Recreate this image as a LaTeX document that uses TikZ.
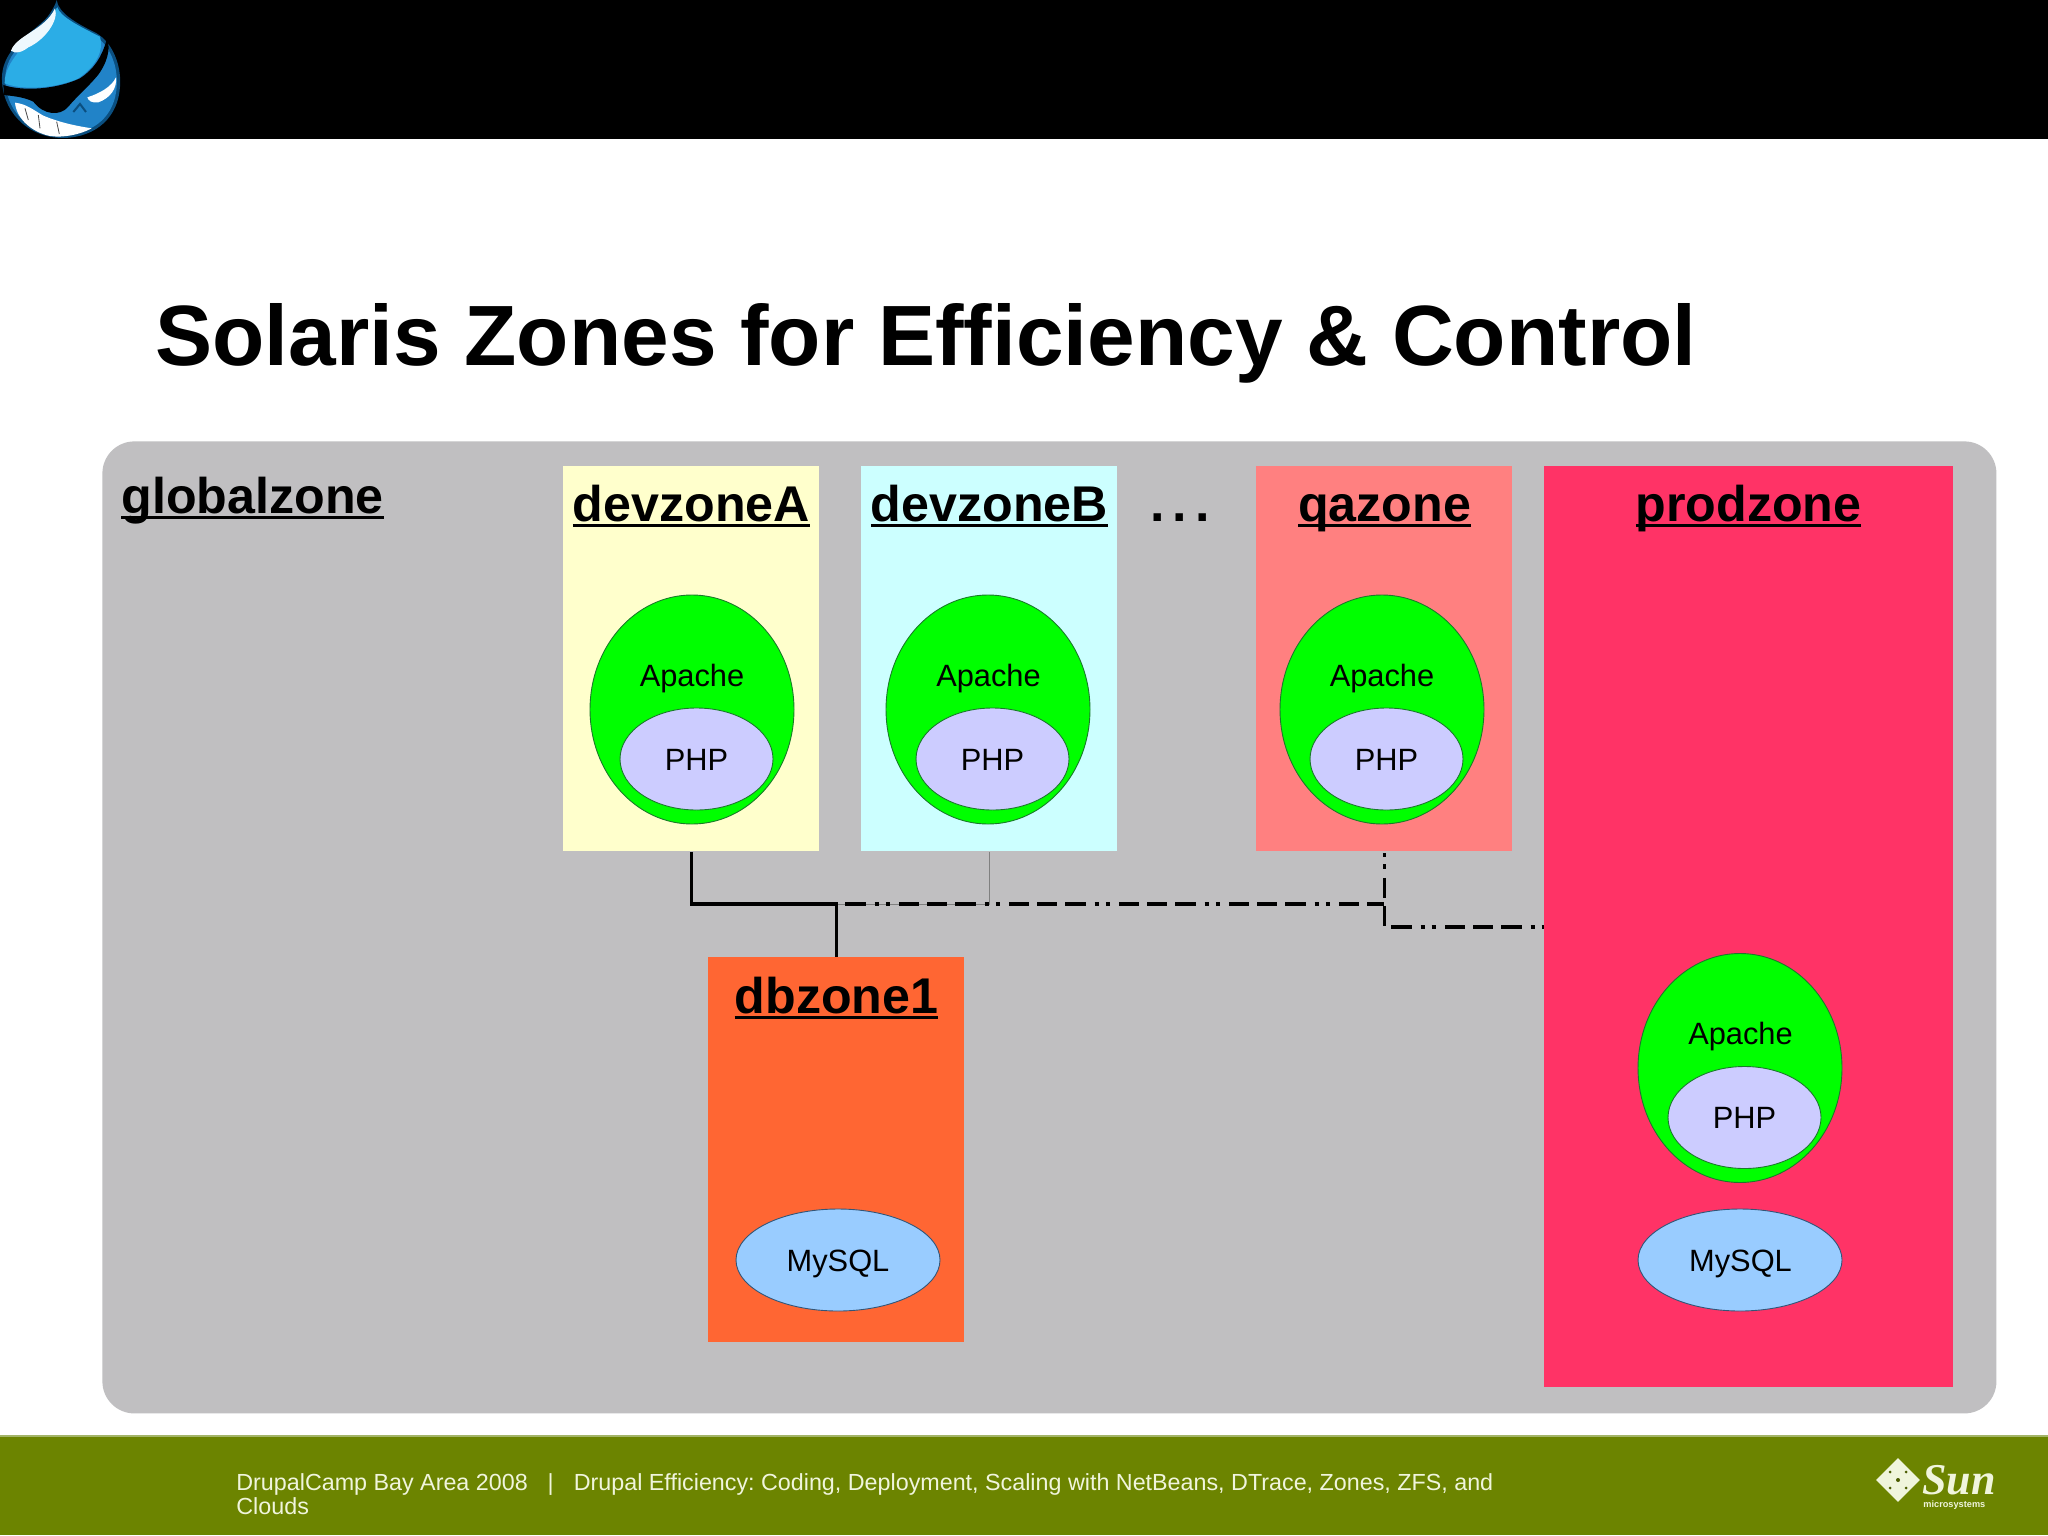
\documentclass[tikz,border=0pt]{standalone}
\usepackage{fontspec}
\setmainfont{Liberation Sans}
\newfontfamily\sunfont{Liberation Serif}
\usetikzlibrary{shapes.geometric,calc}
\frenchspacing
\definecolor{panelgrey}{HTML}{C0BFC1}
\definecolor{footgreen}{HTML}{6C8400}
\definecolor{footedge}{HTML}{A3B468}
\definecolor{apachegreen}{HTML}{00FF00}
\definecolor{edgegreen}{HTML}{1A7A2A}
\definecolor{phpblue}{HTML}{CCCCFF}
\definecolor{mysqlblue}{HTML}{99CCFF}
\definecolor{edgeblue}{HTML}{335577}
\definecolor{zoneA}{HTML}{FFFFCC}
\definecolor{zoneB}{HTML}{CCFFFF}
\definecolor{zoneQ}{HTML}{FF8080}
\definecolor{zoneP}{HTML}{FF3366}
\definecolor{zoneD}{HTML}{FF6633}
\definecolor{dropdark}{HTML}{0B4F80}
\definecolor{dropmid}{HTML}{2183C8}
\definecolor{droplight}{HTML}{2BADE6}
\definecolor{foottext}{HTML}{F0F5DC}
\newcommand{\zonelabel}[1]{\setbox0=\hbox{\fontsize{25.1}{30}\selectfont\bfseries #1}\rlap{\rule[-2.9pt]{\wd0}{1.3pt}}\box0}
\tikzset{
  zonebox/.style={draw=none,rectangle,minimum width=256pt*0.5,minimum height=385pt*0.5,inner sep=0pt},
  zonetext/.style={anchor=base,inner sep=0pt},
  apacheball/.style={ellipse,draw=edgegreen,line width=0.45pt,fill=apachegreen,minimum width=102pt,minimum height=114.5pt,inner sep=0pt},
  phpball/.style={ellipse,draw=edgegreen,line width=0.45pt,fill=phpblue,minimum width=76.5pt,minimum height=51pt,inner sep=0pt},
  mysqlball/.style={ellipse,draw=edgeblue,line width=0.45pt,fill=mysqlblue,minimum width=102pt,minimum height=51pt,inner sep=0pt},
  balltext/.style={anchor=base,inner sep=0pt,font=\fontsize{15.4}{18}\selectfont},
  link/.style={line width=1.9pt,draw=black},
  thinlink/.style={line width=0.5pt,draw=gray},
  dashlink/.style={line width=1.9pt,draw=black,dash pattern=on 10pt off 4pt on 10pt off 4pt on 10.5pt off 4.1pt on 2.2pt off 3.4pt on 2.2pt off 4.6pt},
}
\begin{document}
\begin{tikzpicture}[x=0.5pt,y=-0.5pt]
\useasboundingbox (0,0) rectangle (2048,1535);
\fill[white] (0,0) rectangle (2048,1535);
\fill[black] (0,0) rectangle (2048,139);
\fill[footgreen] (0,1435) rectangle (2048,1535);
\fill[footedge] (0,1435) rectangle (2048,1437);
% logo
\begin{scope}[scale=1/3]
\fill[dropdark] (170,0) .. controls (175,40) and (230,70) .. (290,100) .. controls (340,130) and (365,200) .. (360,260) .. controls (355,350) and (290,412) .. (190,414) .. controls (80,414) and (3,330) .. (6,230) .. controls (10,130) and (120,90) .. (150,40) .. controls (160,25) and (168,10) .. (170,0) -- cycle;
\fill[dropmid] (172,22) .. controls (180,50) and (230,80) .. (285,108) .. controls (330,135) and (355,200) .. (350,260) .. controls (345,345) and (285,402) .. (190,404) .. controls (85,404) and (13,330) .. (16,230) .. controls (20,135) and (125,95) .. (172,22) -- cycle;
\fill[droplight] (172,22) .. controls (180,50) and (240,80) .. (300,110) .. controls (312,150) and (290,200) .. (230,238) .. controls (160,265) and (70,272) .. (14,250) .. controls (12,170) and (125,95) .. (172,22) -- cycle;
\fill[black] (10,255) .. controls (70,275) and (170,268) .. (240,235) .. controls (285,205) and (305,170) .. (320,120) .. controls (335,140) and (320,195) .. (290,230) .. controls (260,265) and (230,290) .. (205,320) .. controls (180,350) and (130,345) .. (100,305) .. controls (70,290) and (35,288) .. (12,285) -- cycle;
\fill[white!92!droplight] (33,152) .. controls (50,105) and (135,90) .. (165,25) .. controls (178,60) and (135,120) .. (85,142) .. controls (65,158) and (45,162) .. (33,152) -- cycle;
\fill[white] (45,308) .. controls (80,312) and (100,330) .. (130,347) .. controls (180,368) and (230,378) .. (275,385) .. controls (240,404) and (190,414) .. (150,408) .. controls (100,398) and (50,360) .. (45,308) -- cycle;
\draw[black!70,line width=0.4pt] (75,325) -- (85,360) (115,345) -- (120,385) (170,365) -- (178,402);
\fill[white] (262,292) .. controls (300,280) and (335,260) .. (348,232) .. controls (352,265) and (330,295) .. (295,307) .. controls (275,310) and (265,302) .. (262,292) -- cycle;
\draw[dropdark,line width=1pt] (220,336) -- (240,312) -- (258,336);
\end{scope}
% title
\node[anchor=base west,inner sep=0pt,font=\fontsize{42.8}{50}\selectfont\bfseries] (title) at (155,365) {Solaris Zones for Efficiency \& Control};
% panel
\node[rectangle,rounded corners=16pt,fill=panelgrey,anchor=north west,inner sep=0pt,minimum width=947pt,minimum height=486pt] (global) at (102,441) {};
\node[zonetext,anchor=base west] (globallabel) at (121,513) {\zonelabel{globalzone}};
% zones
\node[zonebox,fill=zoneA,anchor=north west] (devA) at (563,466) {};
\node[zonebox,fill=zoneB,anchor=north west] (devB) at (861,466) {};
\node[zonebox,fill=zoneQ,anchor=north west] (qa) at (1256,466) {};
\node[rectangle,inner sep=0pt,fill=zoneP,anchor=north west,minimum width=204.5pt,minimum height=460.5pt] (prod) at (1544,466) {};
\node[zonebox,fill=zoneD,anchor=north west] (db) at (708,957) {};
\node[zonetext] (devAl) at (691.5,521) {\zonelabel{devzoneA}};
\node[zonetext] (devBl) at (989.5,521) {\zonelabel{devzoneB}};
\node[zonetext] (qal) at (1384.5,521) {\zonelabel{qazone}};
\node[zonetext] (prodl) at (1748.5,521) {\zonelabel{prodzone}};
\node[zonetext] (dbl) at (836.5,1013) {\zonelabel{dbzone1}};
\node[zonetext,font=\fontsize{26}{30}\selectfont\bfseries] (dots) at (1180,521) {.\hspace{3.9pt}.\hspace{3.9pt}.};
% stacks
\node[apacheball] (apA) at (692,709.5) {};
\node[phpball] (phA) at (696.5,759) {};
\node[balltext] (apAt) at (692,686) {Apache};
\node[balltext] (phAt) at (696.5,770) {PHP};
\node[apacheball] (apB) at (988,709.5) {};
\node[phpball] (phB) at (992.5,759) {};
\node[balltext] (apBt) at (988.5,686) {Apache};
\node[balltext] (phBt) at (992.5,770) {PHP};
\node[apacheball] (apQ) at (1382,709.5) {};
\node[phpball] (phQ) at (1386.5,759) {};
\node[balltext] (apQt) at (1382,686) {Apache};
\node[balltext] (phQt) at (1386.5,770) {PHP};
\node[apacheball] (apP) at (1740,1068) {};
\node[phpball] (phP) at (1744.5,1117.5) {};
\node[balltext] (apPt) at (1740.5,1044.5) {Apache};
\node[balltext] (phPt) at (1744.5,1128.5) {PHP};
\node[mysqlball] (myD) at (838,1260) {};
\node[balltext] (myDt) at (838,1271.5) {MySQL};
\node[mysqlball] (myP) at (1740,1260) {};
\node[balltext] (myPt) at (1740.5,1271.5) {MySQL};
% connectors
\coordinate (jct) at (db.north|-0,904);
\coordinate (jq) at (qa.south|-0,904);
\draw[thinlink] (devB.south) |- (jct);
\draw[link] (devA.south) |- (jct) -- (db.north);
\draw[dashlink,dash phase=23.5pt] (jct) -- (jq);
\draw[dashlink,dash phase=42pt] (qa.south) |- (prod.west);
% footer
\node[anchor=north west,inner sep=0pt,align=left,text=foottext,font=\fontsize{11.65}{12}\selectfont] (foot) at (236,1473) {DrupalCamp Bay Area 2008\hspace{10pt}|\hspace{10pt}Drupal Efficiency: Coding, Deployment, Scaling with NetBeans, DTrace, Zones, ZFS, and\\Clouds};
% sun logo
\node[diamond,fill=foottext,inner sep=0pt,minimum width=22pt,minimum height=22pt] (sundia) at (1898,1480) {};
\fill[footgreen!70!black] (1898,1480) circle (2) (1890,1472) circle (1.5) (1906,1472) circle (1.5) (1890,1488) circle (1.5) (1906,1488) circle (1.5);
\node[anchor=base west,inner sep=0pt,text=foottext,font=\sunfont\itshape\bfseries\fontsize{22}{24}\selectfont] (sun) at (1922,1494) {Sun};
\node[anchor=base west,inner sep=0pt,text=foottext,font=\fontsize{4.6}{5}\selectfont\bfseries] (micro) at (1923,1507) {microsystems};
\end{tikzpicture}
\end{document}
